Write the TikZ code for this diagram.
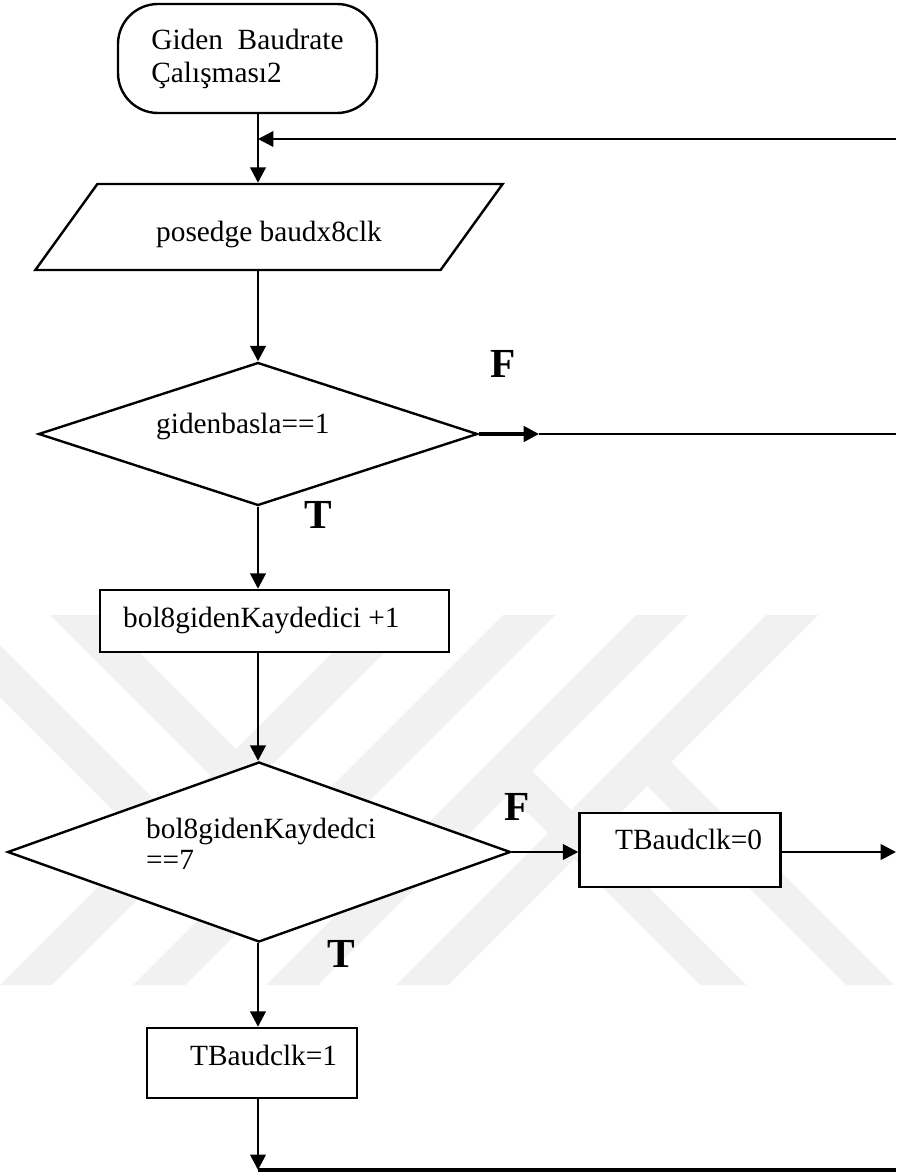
\documentclass[tikz,border=0pt]{standalone}
\usepackage{fontspec}
\setmainfont{Liberation Serif}
\usetikzlibrary{arrows.meta,shapes.geometric}
\definecolor{wmgray}{gray}{0.945}

\begin{document}
\begin{tikzpicture}[x=0.75pt,y=-0.75pt,
  line width=1.8pt,
  txt/.style={font=\fontsize{22}{26}\selectfont, inner sep=0pt, anchor=base west},
  lbl/.style={font=\fontsize{31}{33}\selectfont\bfseries, inner sep=0pt, anchor=base west},
  arr/.style={line width=2pt, -{Triangle[length=11.5pt,width=11.5pt]}},
  proc/.style={draw, fill=white, rectangle, inner sep=0pt},
  dec/.style={draw, fill=white, diamond, inner sep=0pt},
  band/.style={fill=wmgray, draw=none}]

\useasboundingbox (0,0) rectangle (896,1176);
\fill[white] (0,0) rectangle (896,1176);

% faint background emblem: diagonal bands
\fill[band] (370,615) -- (422,615) -- (52,985) -- (0,985) -- cycle;
\fill[band] (503,615) -- (555,615) -- (185,985) -- (133,985) -- cycle;
\fill[band] (636,615) -- (688,615) -- (318,985) -- (266,985) -- cycle;
\fill[band] (766,615) -- (818,615) -- (448,985) -- (396,985) -- cycle;
\fill[band] (50,615) -- (102,615) -- (236,749) -- (236,801) -- cycle;
\fill[band] (0,645) -- (170,815) -- (170,867) -- (0,697) -- cycle;
\fill[band] (509,794) -- (532,771) -- (746,985) -- (700,985) -- cycle;
\fill[band] (647,786) -- (671,762) -- (894,985) -- (846,985) -- cycle;

% main flow axis
\coordinate (ax) at (258,0);

% shapes
\node[proc, rounded corners=30pt, minimum width=194.25pt, minimum height=81.75pt,
      align=left, font=\fontsize{22}{24.75}\selectfont] (start) at (247.5,58.5)
      {Giden\ \ Baudrate\\Çalışması2};
\node[draw, fill=white, trapezium, trapezium left angle=36.33, trapezium right angle=143.67,
      trapezium stretches=true, minimum width=351pt, minimum height=64.5pt,
      inner sep=0pt, font=\fontsize{22}{26}\selectfont,
      text height=22.5pt, text depth=0pt] (para) at (269,227) {posedge baudx8clk};
\node[dec, minimum width=329.25pt, minimum height=107.25pt] (d1) at (258,434) {};
\node[proc, minimum width=261.75pt, minimum height=46.5pt] (b1) at (274.5,621) {};
\node[dec, minimum width=377.25pt, minimum height=135pt] (d2) at (259,852) {};
\node[proc, minimum width=150.75pt, minimum height=55.5pt] (b0) at (680,850) {};
\node[proc, minimum width=157.5pt, minimum height=52.5pt] (bT) at (252,1063) {};

% texts
\node[txt] (td1) at (155,433) {gidenbasla==1};
\node[txt] (tb1) at (122,627) {bol8gidenKaydedici +1};
\node[txt] (td2a) at (145,838) {bol8gidenKaydedci};
\node[txt] (td2b) at (145,869) {==7};
\node[txt] (tb0) at (614,849) {TBaudclk=0};
\node[txt] (tbT) at (189,1065) {TBaudclk=1};

% branch labels
\node[lbl] (f1) at (489,378) {F};
\node[lbl] (t1) at (303,528) {T};
\node[lbl] (f2) at (503,820) {F};
\node[lbl] (t2) at (326,967) {T};

% connectors
\coordinate (loopR) at (896,139);
\coordinate (f1end) at (539,434);
\coordinate (f1R) at (896,434);
\coordinate (b0R) at (896,852);
\coordinate (botL) at (258,1170);
\coordinate (botR) at (896,1170);

\draw[arr] (start.south -| ax) -- (ax |- para.north);
\draw[arr] (loopR) -- (loopR -| ax);
\draw[arr] (ax |- para.south) -- (d1.north);
\draw[arr, line width=2.6pt] (d1.east) -- (f1end);
\draw[line width=2pt] (f1end) -- (f1R);
\draw[arr] (d1.south) -- (ax |- b1.north);
\draw[arr] (ax |- b1.south) -- (ax |- d2.north);
\draw[arr] (d2.east) -- (d2.east -| b0.west);
\draw[arr] (d2.east -| b0.east) -- (b0R);
\draw[arr] (ax |- d2.south) -- (ax |- bT.north);
\draw[arr] (ax |- bT.south) -- (botL);
\draw[line width=2.6pt] (botL) -- (botR);
\end{tikzpicture}
\end{document}
